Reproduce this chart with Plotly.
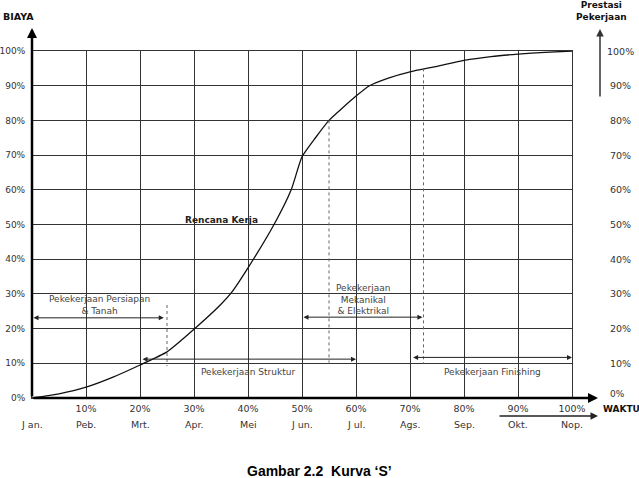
import plotly.graph_objects as go

# ---- data ----
progress_time = [0, 5, 10, 15, 20, 25, 30, 35, 37, 40, 45, 48, 50, 52.5, 55, 60, 62.5, 66, 70, 75, 80, 85, 90, 95, 100]
progress_cost = [0, 1.2, 3.1, 6, 9.5, 13.3, 19.8, 27, 30.5, 37.5, 50.5, 60, 69.5, 75, 80, 87, 90, 92.2, 94, 95.6, 97.3, 98.4, 99.1, 99.6, 100]

pct_ticks = [10, 20, 30, 40, 50, 60, 70, 80, 90, 100]
pct_labels = ["10%", "20%", "30%", "40%", "50%", "60%", "70%", "80%", "90%", "100%"]
month_pos = [0, 10, 20, 30, 40, 50, 60, 70, 80, 90, 100]
month_labels = ["J an.", "Peb.", "Mrt.", "Apr.", "Mei", "J un.", "J ul.", "Ags.", "Sep.", "Okt.", "Nop."]
y_ticks = [0, 10, 20, 30, 40, 50, 60, 70, 80, 90, 100]
y_labels = ["0%", "10%", "20%", "30%", "40%", "50%", "60%", "70%", "80%", "90%", "100%"]

# work phases: (label, start, end, arrow level, text x, text y)
phases = [
    ("Pekekerjaan Persiapan<br>& Tanah", 0, 24.4, 23.1, 12.5, 26.8),
    ("Pekekerjaan Struktur", 20.2, 60, 11.2, 40, 7.5),
    ("Pekekerjaan<br>Mekanikal<br>& Elektrikal", 50, 72.3, 23.3, 61.3, 28.4),
    ("Pekekerjaan Finishing", 70.3, 100, 11.7, 85.3, 7.6),
]
# dotted markers: (x, y top, y bottom)
dotted = [(25, 26.8, 9.2), (55, 80, 10.2), (72.5, 95, 10.0)]

TXT = "#333333"
FONT = "DejaVu Sans"

# pixel geometry of plot area
L, R, T, B = 32, 572, 51, 398
PW, PH = R - L, B - T


def px(xp):
    return (xp - L) / PW


def py(yp):
    return (B - yp) / PH


fig = go.Figure()
fig.add_trace(go.Scatter(
    x=progress_time, y=progress_cost, mode="lines",
    line=dict(color="#111111", width=1.3, shape="spline", smoothing=0.5),
    hoverinfo="skip", showlegend=False))

shapes = []
for x, y0, y1 in dotted:
    shapes.append(dict(type="line", xref="x", yref="y", x0=x, x1=x, y0=y0, y1=y1,
                       line=dict(color="#666666", width=1, dash="dot")))

ann = []
for label, xs, xe, lvl, tx, ty in phases:
    ann.append(dict(x=xe, y=lvl, ax=xs, ay=lvl, xref="x", yref="y", axref="x", ayref="y",
                    text="", showarrow=True, arrowhead=2, arrowsize=1, arrowwidth=1,
                    arrowside="end+start", arrowcolor="#222222"))
    ann.append(dict(x=tx, y=ty, xref="x", yref="y", text=label, showarrow=False,
                    font=dict(family=FONT, size=9, color="#444444"), align="center"))

ann.append(dict(x=35.1, y=51.3, xref="x", yref="y", text="<b>Rencana Kerja</b>", showarrow=False,
                font=dict(family=FONT, size=9, color="#222222")))

# month row (paper coords, below the axis)
for p, m in zip(month_pos, month_labels):
    ann.append(dict(x=p / 100, y=py(424), xref="paper", yref="paper", text=m, showarrow=False,
                    xanchor="center", yanchor="middle",
                    font=dict(family=FONT, size=9.5, color=TXT)))
# right scale
for v, l in zip(y_ticks, y_labels):
    xc = 617 if v == 0 else 620
    yc = py(394) if v == 0 else v / 100
    ann.append(dict(x=px(xc), y=yc, xref="paper", yref="paper", text=l, showarrow=False,
                    xanchor="center", yanchor="middle",
                    font=dict(family=FONT, size=9 if v == 0 else 9.5, color=TXT)))

# axes arrows (paper coords, pixel offsets)
ann.append(dict(x=0, y=py(28), xref="paper", yref="paper", ax=0, ay=370, axref="pixel", ayref="pixel",
                text="", showarrow=True, arrowhead=2, arrowsize=0.8, arrowwidth=2.5, arrowcolor="#000000"))
ann.append(dict(x=px(598), y=0, xref="paper", yref="paper", ax=-566, ay=0, axref="pixel", ayref="pixel",
                text="", showarrow=True, arrowhead=2, arrowsize=0.8, arrowwidth=2.5, arrowcolor="#000000"))
ann.append(dict(x=px(598), y=py(416), xref="paper", yref="paper", ax=-100, ay=0, axref="pixel", ayref="pixel",
                text="", showarrow=True, arrowhead=2, arrowsize=1, arrowwidth=1.5, arrowcolor="#222222"))
ann.append(dict(x=px(600), y=py(29), xref="paper", yref="paper", ax=0, ay=69, axref="pixel", ayref="pixel",
                text="", showarrow=True, arrowhead=2, arrowsize=1, arrowwidth=1.5, arrowcolor="#333333"))

ann.append(dict(x=px(1), y=py(16), xref="paper", yref="paper", text="<b>BIAYA</b>", showarrow=False,
                xanchor="left", yanchor="middle", font=dict(family=FONT, size=9.5, color="#111111")))
ann.append(dict(x=px(601), y=py(409), xref="paper", yref="paper", text="<b>WAKTU</b>", showarrow=False,
                xanchor="left", yanchor="middle", font=dict(family=FONT, size=9, color="#111111")))
ann.append(dict(x=px(601), y=py(11), xref="paper", yref="paper", text="<b>Prestasi<br>Pekerjaan</b>",
                showarrow=False, xanchor="center", yanchor="middle",
                font=dict(family=FONT, size=9, color="#111111")))
ann.append(dict(x=px(319), y=py(461), xref="paper", yref="paper", text="<b>Gambar 2.2  Kurva ‘S’</b>",
                showarrow=False, xanchor="center", yanchor="top",
                font=dict(family="Liberation Sans", size=14, color="#000000")))

fig.update_layout(
    width=639, height=478, autosize=False,
    margin=dict(l=L, r=639 - R, t=T, b=478 - B, pad=0),
    paper_bgcolor="white", plot_bgcolor="white",
    shapes=shapes, annotations=ann,
    xaxis=dict(range=[0, 100], tickvals=pct_ticks, ticktext=pct_labels, showgrid=True,
               gridcolor="#333333", gridwidth=1, zeroline=False, showline=True, mirror=True,
               linecolor="#333333", linewidth=1, ticks="", ticklabelstandoff=2, automargin=False,
               tickfont=dict(family=FONT, size=9.5, color=TXT), fixedrange=True),
    yaxis=dict(range=[0, 100], tickvals=y_ticks, ticktext=y_labels, showgrid=True,
               gridcolor="#333333", gridwidth=1, zeroline=False, showline=True, mirror=True,
               linecolor="#333333", linewidth=1, ticks="", ticklabelstandoff=4, automargin=False,
               tickfont=dict(family=FONT, size=9, color=TXT), fixedrange=True),
)

fig.write_html("out.html")
